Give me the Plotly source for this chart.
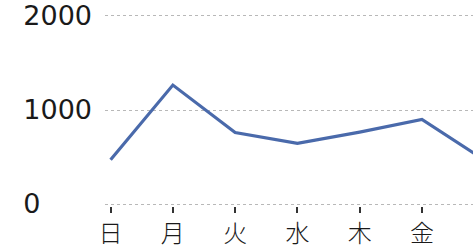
import plotly.graph_objects as go

days = ["日", "月", "火", "水", "木", "金", "土"]
values = [470, 1265, 760, 645, 765, 900, 470]
y_ticks = [0, 1000, 2000]
y_tick_labels = ["0" + "\u00a0" * 6, "1000", "2000"]

fig = go.Figure()
fig.add_trace(go.Scatter(
    x=list(range(len(days))), y=values, mode="lines",
    line=dict(color="#4a6aab", width=3.2),
    hoverinfo="skip",
))

fig.update_layout(
    width=473, height=246,
    margin=dict(l=105, r=0, t=0, b=40, autoexpand=False),
    paper_bgcolor="white", plot_bgcolor="white",
    showlegend=False,
    font=dict(family="DejaVu Sans", color="#222222"),
)
fig.update_xaxes(
    range=[-0.09, 5.82],
    tickmode="array", tickvals=list(range(len(days))), ticktext=days,
    ticks="outside", ticklen=6, tickwidth=2, tickcolor="#333333",
    showgrid=False, zeroline=False, showline=False,
    automargin=False,
    tickfont=dict(family="Noto Sans CJK JP", size=24, color="#1a1a1a", weight=300),
)
fig.update_yaxes(
    range=[-21, 2170],
    tickmode="array", tickvals=y_ticks, ticktext=y_tick_labels,
    showgrid=True, gridcolor="#b8b8b8", griddash="dot", gridwidth=1,
    zeroline=False, showline=False, ticks="",
    automargin=False,
    ticklabelstandoff=12,
    tickfont=dict(family="DejaVu Sans", size=27, color="#1a1a1a"),
)

fig.write_html(
    "out.html",
    config={"displayModeBar": False},
    post_script="document.body.style.margin='0px';document.body.style.overflow='hidden';",
)
